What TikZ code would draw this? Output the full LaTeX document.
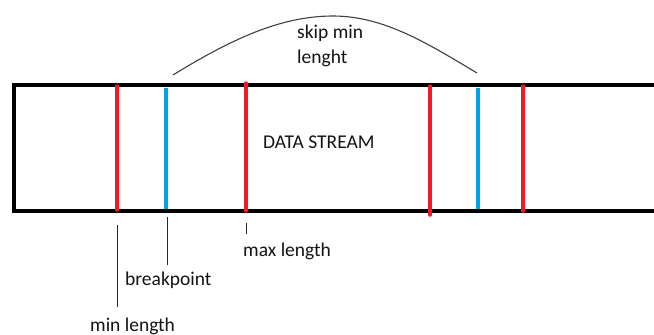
\documentclass[tikz,border=0pt]{standalone}
\usepackage{fontspec}
\setmainfont{Carlito}
\definecolor{pred}{RGB}{237,28,36}
\definecolor{pblue}{RGB}{0,162,232}
\definecolor{ptext}{RGB}{20,20,20}
\begin{document}
\begin{tikzpicture}[x=1pt,y=-1pt,
  lbl/.style={anchor=base west,inner sep=0pt,font=\fontsize{19.5}{25}\selectfont,text=ptext},
  redmark/.style={draw=pred,line width=3.5pt,line cap=round},
  bluemark/.style={draw=pblue,line width=3.5pt},
  leader/.style={draw=black!85,line width=0.9pt},
  arcline/.style={draw=black!75,line width=1.1pt}]
\clip (0,0) rectangle (654,335);
\fill[white] (0,0) rectangle (654,335);
% data stream band
\draw[line width=4pt] (680,85) -- (13.5,85) -- (13.5,211) -- (680,211);
% markers
\coordinate (r1t) at (117,86); \coordinate (r1b) at (117,210);
\coordinate (b1t) at (166,88); \coordinate (b1b) at (166,209);
\coordinate (r2t) at (246,83); \coordinate (r2b) at (246,211);
\coordinate (r3t) at (430,86); \coordinate (r3b) at (430,215);
\coordinate (b2t) at (478,88); \coordinate (b2b) at (478,209);
\coordinate (r4t) at (523,86); \coordinate (r4b) at (523,211);
\draw[redmark] (r1t) -- (r1b);
\draw[bluemark] (b1t) -- (b1b);
\draw[redmark] (r2t) -- (r2b);
\draw[redmark] (r3t) -- (r3b);
\draw[bluemark] (b2t) -- (b2b);
\draw[redmark] (r4t) -- (r4b);
% texts
\node[lbl] (data) at (263,148) {DATA STREAM};
\node[lbl] (skip) at (297,38) {skip min};
\node[lbl] (leng) at (297,63) {lenght};
\node[lbl] (maxl) at (243,256) {max length};
\node[lbl] (brk) at (125,285) {breakpoint};
\node[lbl] (minl) at (90,331) {min length};
% leaders
\coordinate (minA) at (117,225); \coordinate (minB) at (117,307);
\coordinate (brkA) at (167,217); \coordinate (brkB) at (167,265);
\coordinate (maxA) at (246,223); \coordinate (maxB) at (246,234);
\draw[leader] (minA) -- (minB);
\draw[leader] (brkA) -- (brkB);
\draw[leader] (maxA) -- (maxB);
% skip arc
\coordinate (arcS) at (173,75);
\coordinate (arcP) at (333,16);
\coordinate (arcE) at (477,73);
\draw[arcline] (arcS) .. controls (230,40) and (280,16) .. (arcP)
  .. controls (385,16) and (430,45) .. (arcE);
\end{tikzpicture}
\end{document}
